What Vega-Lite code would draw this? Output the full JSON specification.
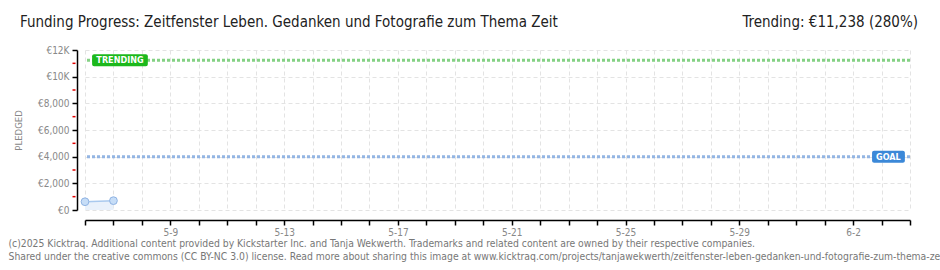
{
  "$schema": "https://vega.github.io/schema/vega-lite/v6.json",
  "width": 825,
  "height": 160,
  "autosize": {"type": "none"},
  "padding": {"left": 85, "top": 50, "right": 30, "bottom": 60},
  "background": "white",
  "config": {"view": {"stroke": null}, "font": "DejaVu Sans Condensed"},
  "resolve": {"axis": {"y": "independent"}},
  "datasets": {
    "pledged": [
      {"date": "2025-05-06", "pledged": 620},
      {"date": "2025-05-07", "pledged": 700}
    ],
    "minorTicks": [{"amount": 1000}, {"amount": 3000}, {"amount": 5000}, {"amount": 7000}, {"amount": 9000}, {"amount": 11000}],
    "headline": [{"title": "Funding Progress: Zeitfenster Leben. Gedanken und Fotografie zum Thema Zeit"}],
    "trending": [{"label": "TRENDING", "amount": 11238, "header": "Trending:  €11,238 (280%)"}],
    "goal": [{"label": "GOAL", "amount": 4000}]
  },
  "layer": [
    {
      "data": {"name": "pledged"},
      "mark": {"type": "area", "color": "#e9f1fb"},
      "encoding": {
        "x": {
          "field": "date",
          "type": "temporal",
          "scale": {
            "type": "utc",
            "domain": [
              {"year": 2025, "month": 5, "date": 6, "utc": true},
              {"year": 2025, "month": 6, "date": 4, "utc": true}
            ]
          },
          "axis": {
            "tickCount": {"interval": "day", "step": 1},
            "labelExpr": "((datum.value - utc(2025,4,6)) / 86400000) % 4 == 3 ? utcFormat(datum.value, '%-m-%-d') : ''",
            "offset": 10,
            "domainColor": "#000000",
            "domainWidth": 1.5,
            "tickColor": "#000000",
            "tickSize": 5,
            "tickWidth": 1.5,
            "labelColor": "#888888",
            "labelFontSize": 10,
            "labelPadding": 2,
            "labelFlush": false,
            "labelOverlap": false,
            "grid": true,
            "gridColor": "#e3e3e3",
            "gridDash": [4, 3],
            "title": [
              "(c)2025 Kicktraq. Additional content provided by Kickstarter Inc. and Tanja Wekwerth. Trademarks and related content are owned by their respective companies.",
              "Shared under the creative commons (CC BY-NC 3.0) license. Read more about sharing this image at www.kicktraq.com/projects/tanjawekwerth/zeitfenster-leben-gedanken-und-fotografie-zum-thema-zeit/"
            ],
            "titleAnchor": "start",
            "titleAlign": "left",
            "titleBaseline": "alphabetic",
            "titleX": -77,
            "titleY": 26,
            "titleLineHeight": 13,
            "titleFontSize": 10.3,
            "titleFontWeight": "normal",
            "titleColor": "#777777"
          }
        },
        "y": {
          "field": "pledged",
          "type": "quantitative",
          "scale": {"domain": [0, 12000], "nice": false},
          "axis": {
            "values": [0, 2000, 4000, 6000, 8000, 10000, 12000],
            "labelExpr": "datum.value >= 10000 ? '€' + (datum.value / 1000) + 'K' : '€' + format(datum.value, ',')",
            "labelOverlap": false,
            "offset": 8,
            "domainColor": "#000000",
            "domainWidth": 1.5,
            "tickColor": "#000000",
            "tickSize": 5,
            "tickWidth": 1.5,
            "labelColor": "#888888",
            "labelFontSize": 10,
            "labelPadding": 3,
            "grid": true,
            "gridColor": "#e3e3e3",
            "gridDash": [4, 3],
            "title": "PLEDGED",
            "titleColor": "#888888",
            "titleFontSize": 9.5,
            "titleFontWeight": "normal",
            "titlePadding": 14
          }
        }
      }
    },
    {
      "data": {"name": "pledged"},
      "mark": {"type": "line", "color": "#a9c9ee", "strokeWidth": 1.5},
      "encoding": {
        "x": {"field": "date", "type": "temporal"},
        "y": {"field": "pledged", "type": "quantitative", "axis": null}
      }
    },
    {
      "data": {"name": "pledged"},
      "mark": {"type": "point", "filled": true, "fill": "#c6ddf7", "stroke": "#8fb3e3", "strokeWidth": 1, "size": 60, "opacity": 1},
      "encoding": {
        "x": {"field": "date", "type": "temporal"},
        "y": {"field": "pledged", "type": "quantitative", "axis": null}
      }
    },
    {
      "data": {"name": "minorTicks"},
      "mark": {"type": "tick", "orient": "horizontal", "color": "#e00000", "size": 3, "thickness": 1.5, "xOffset": -11, "opacity": 1},
      "encoding": {
        "x": {"datum": {"year": 2025, "month": 5, "date": 6, "utc": true}, "type": "temporal"},
        "y": {"field": "amount", "type": "quantitative", "axis": null}
      }
    },
    {
      "data": {"name": "trending"},
      "mark": {"type": "rule", "color": "#84d184", "strokeWidth": 3, "strokeDash": [3, 2]},
      "encoding": {"y": {"field": "amount", "type": "quantitative", "axis": null}}
    },
    {
      "data": {"name": "goal"},
      "mark": {"type": "rule", "color": "#93b5e3", "strokeWidth": 3, "strokeDash": [3, 2]},
      "encoding": {"y": {"field": "amount", "type": "quantitative", "axis": null}}
    },
    {
      "data": {"name": "trending"},
      "mark": {"type": "rect", "color": "#1cb81c", "cornerRadius": 2},
      "encoding": {
        "x": {"datum": {"year": 2025, "month": 5, "date": 6, "hours": 6, "utc": true}, "type": "temporal"},
        "x2": {"datum": {"year": 2025, "month": 5, "date": 8, "hours": 5, "utc": true}},
        "y": {"datum": 10790, "type": "quantitative", "axis": null},
        "y2": {"datum": 11690}
      }
    },
    {
      "data": {"name": "trending"},
      "mark": {"type": "text", "color": "#ffffff", "fontSize": 9, "fontWeight": "bold", "align": "center", "baseline": "middle"},
      "encoding": {
        "x": {"datum": {"year": 2025, "month": 5, "date": 7, "hours": 5, "minutes": 30, "utc": true}, "type": "temporal"},
        "y": {"field": "amount", "type": "quantitative", "axis": null},
        "text": {"field": "label"}
      }
    },
    {
      "data": {"name": "goal"},
      "mark": {"type": "rect", "color": "#3b88d8", "cornerRadius": 2},
      "encoding": {
        "x": {"datum": {"year": 2025, "month": 6, "date": 2, "hours": 16, "utc": true}, "type": "temporal"},
        "x2": {"datum": {"year": 2025, "month": 6, "date": 3, "hours": 19, "minutes": 40, "utc": true}},
        "y": {"datum": 3550, "type": "quantitative", "axis": null},
        "y2": {"datum": 4450}
      }
    },
    {
      "data": {"name": "goal"},
      "mark": {"type": "text", "color": "#ffffff", "fontSize": 9, "fontWeight": "bold", "align": "center", "baseline": "middle"},
      "encoding": {
        "x": {"datum": {"year": 2025, "month": 6, "date": 3, "hours": 5, "minutes": 45, "utc": true}, "type": "temporal"},
        "y": {"field": "amount", "type": "quantitative", "axis": null},
        "text": {"field": "label"}
      }
    },
    {
      "data": {"name": "headline"},
      "mark": {"type": "text", "color": "#222222", "fontSize": 15, "align": "left", "baseline": "alphabetic", "dx": -65, "dy": -23, "font": "DejaVu Sans Condensed"},
      "encoding": {
        "x": {"datum": {"year": 2025, "month": 5, "date": 6, "utc": true}, "type": "temporal"},
        "y": {"datum": 12000, "type": "quantitative", "axis": null},
        "text": {"field": "title"}
      }
    },
    {
      "data": {"name": "trending"},
      "mark": {"type": "text", "color": "#222222", "fontSize": 15, "align": "right", "baseline": "alphabetic", "dx": 8, "dy": -23, "font": "DejaVu Sans Condensed"},
      "encoding": {
        "x": {"datum": {"year": 2025, "month": 6, "date": 4, "utc": true}, "type": "temporal"},
        "y": {"datum": 12000, "type": "quantitative", "axis": null},
        "text": {"field": "header"}
      }
    }
  ]
}
